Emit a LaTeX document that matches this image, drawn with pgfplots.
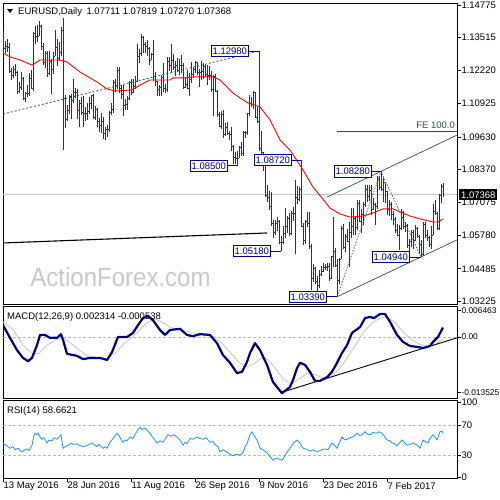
\documentclass[border=0pt]{standalone}
\usepackage{pgfplots}
\pgfplotsset{compat=1.18}
\usepackage{pgfplotstable}
\usepackage{fontspec}
\setmainfont{Liberation Sans}
\definecolor{barc}{RGB}{22,58,88}
\definecolor{navyb}{RGB}{0,0,128}
\definecolor{slate}{RGB}{47,79,79}
\definecolor{rsic}{RGB}{30,144,255}
\definecolor{wm}{RGB}{200,200,200}

\pgfplotstableread{
i o h l c
0 1.1370 1.1378 1.1290 1.1309
1 1.1309 1.1338 1.1291 1.1315
2 1.1315 1.1346 1.1293 1.1314
3 1.1314 1.1328 1.1214 1.1220
4 1.1220 1.1233 1.1186 1.1204
5 1.1204 1.1239 1.1193 1.1225
6 1.1225 1.1249 1.1200 1.1216
7 1.1216 1.1220 1.1129 1.1142
8 1.1142 1.1176 1.1136 1.1155
9 1.1155 1.1216 1.1147 1.1190
10 1.1190 1.1198 1.1106 1.1114
11 1.1114 1.1139 1.1100 1.1134
12 1.1134 1.1164 1.1119 1.1131
13 1.1131 1.1212 1.1122 1.1190
14 1.1190 1.1222 1.1150 1.1152
15 1.1152 1.1374 1.1141 1.1365
16 1.1365 1.1394 1.1325 1.1355
17 1.1355 1.1398 1.1335 1.1357
18 1.1357 1.1416 1.1357 1.1395
19 1.1395 1.1400 1.1300 1.1316
20 1.1316 1.1331 1.1245 1.1252
21 1.1252 1.1297 1.1233 1.1288
22 1.1288 1.1297 1.1195 1.1210
23 1.1210 1.1299 1.1203 1.1259
24 1.1259 1.1265 1.1131 1.1226
25 1.1226 1.1294 1.1209 1.1279
26 1.1279 1.1381 1.1279 1.1313
27 1.1313 1.1346 1.1238 1.1268
28 1.1268 1.1335 1.1258 1.1291
29 1.1291 1.1390 1.1278 1.1380
30 1.1380 1.1427 1.0912 1.1115
31 1.1115 1.1126 1.0998 1.1032
32 1.1032 1.1089 1.1025 1.1067
33 1.1067 1.1127 1.1052 1.1122
34 1.1122 1.1130 1.1031 1.1105
35 1.1105 1.1187 1.1095 1.1136
36 1.1136 1.1155 1.1114 1.1137
37 1.1137 1.1149 1.1032 1.1067
38 1.1067 1.1106 1.1000 1.1094
39 1.1094 1.1120 1.1048 1.1057
40 1.1057 1.1121 1.1000 1.1053
41 1.1053 1.1078 1.1025 1.1054
42 1.1054 1.1094 1.1030 1.1061
43 1.1061 1.1120 1.1052 1.1093
44 1.1093 1.1121 1.1071 1.1124
45 1.1124 1.1130 1.1032 1.1041
46 1.1041 1.1085 1.1027 1.1069
47 1.1069 1.1074 1.1002 1.1023
48 1.1023 1.1036 1.0982 1.1006
49 1.1006 1.1058 1.0980 1.1023
50 1.1023 1.1041 1.0953 1.0975
51 1.0975 1.1003 1.0952 1.0994
52 1.0994 1.1010 1.0961 1.0991
53 1.0991 1.1063 1.0982 1.1059
54 1.1059 1.1094 1.1047 1.1071
55 1.1071 1.1185 1.1058 1.1174
56 1.1174 1.1190 1.1140 1.1163
57 1.1163 1.1236 1.1151 1.1222
58 1.1222 1.1234 1.1134 1.1151
59 1.1151 1.1167 1.1110 1.1129
60 1.1129 1.1164 1.1046 1.1085
61 1.1085 1.1111 1.1067 1.1088
62 1.1088 1.1124 1.1067 1.1113
63 1.1113 1.1182 1.1105 1.1176
64 1.1176 1.1188 1.1128 1.1137
65 1.1137 1.1187 1.1133 1.1160
66 1.1160 1.1199 1.1149 1.1180
67 1.1180 1.1324 1.1178 1.1277
68 1.1277 1.1305 1.1250 1.1288
69 1.1288 1.1366 1.1278 1.1352
70 1.1352 1.1356 1.1290 1.1325
71 1.1325 1.1335 1.1290 1.1318
72 1.1318 1.1341 1.1280 1.1307
73 1.1307 1.1312 1.1245 1.1263
74 1.1263 1.1292 1.1262 1.1286
75 1.1286 1.1341 1.1180 1.1198
76 1.1198 1.1216 1.1160 1.1178
77 1.1178 1.1181 1.1123 1.1147
78 1.1147 1.1165 1.1122 1.1157
79 1.1157 1.1206 1.1124 1.1197
80 1.1197 1.1250 1.1137 1.1154
81 1.1154 1.1170 1.1135 1.1149
82 1.1149 1.1275 1.1138 1.1256
83 1.1256 1.1273 1.1221 1.1241
84 1.1241 1.1327 1.1211 1.1262
85 1.1262 1.1285 1.1224 1.1234
86 1.1234 1.1259 1.1199 1.1241
87 1.1241 1.1269 1.1217 1.1221
88 1.1221 1.1268 1.1204 1.1243
89 1.1243 1.1283 1.1214 1.1242
90 1.1242 1.1250 1.1150 1.1155
91 1.1155 1.1196 1.1154 1.1168
92 1.1168 1.1224 1.1151 1.1154
93 1.1154 1.1212 1.1122 1.1188
94 1.1188 1.1257 1.1174 1.1208
95 1.1208 1.1235 1.1192 1.1225
96 1.1225 1.1259 1.1211 1.1255
97 1.1255 1.1255 1.1205 1.1213
98 1.1213 1.1228 1.1158 1.1216
99 1.1216 1.1260 1.1185 1.1220
100 1.1220 1.1250 1.1190 1.1240
101 1.1240 1.1247 1.1196 1.1207
102 1.1207 1.1245 1.1167 1.1204
103 1.1204 1.1241 1.1184 1.1204
104 1.1204 1.1219 1.1140 1.1150
105 1.1150 1.1204 1.1045 1.1200
106 1.1200 1.1209 1.1137 1.1140
107 1.1140 1.1147 1.1039 1.1052
108 1.1052 1.1059 1.1003 1.1004
109 1.1004 1.1064 1.0992 1.1050
110 1.1050 1.1068 1.0960 1.0971
111 1.0971 1.1016 1.0967 1.1002
112 1.1002 1.1020 1.0971 1.0975
113 1.0975 1.0985 1.0950 1.0974
114 1.0974 1.1000 1.0909 1.0927
115 1.0927 1.0933 1.0858 1.0883
116 1.0883 1.0905 1.0856 1.0880
117 1.0880 1.0906 1.0850 1.0880
118 1.0880 1.0926 1.0880 1.0922
119 1.0922 1.0943 1.0888 1.0900
120 1.0900 1.0984 1.0890 1.0980
121 1.0980 1.0985 1.0960 1.0980
122 1.0980 1.1058 1.0970 1.1055
123 1.1055 1.1125 1.1045 1.1093
124 1.1093 1.1120 1.1080 1.1090
125 1.1090 1.1143 1.1070 1.1138
126 1.1138 1.1140 1.1035 1.1040
127 1.1040 1.1078 1.1018 1.1025
128 1.1025 1.1298 1.0906 1.0920
129 1.0920 1.0985 1.0880 1.0902
130 1.0902 1.0904 1.0830 1.0855
131 1.0855 1.0860 1.0730 1.0735
132 1.0735 1.0774 1.0710 1.0728
133 1.0728 1.0753 1.0677 1.0690
134 1.0690 1.0749 1.0615 1.0626
135 1.0626 1.0637 1.0568 1.0590
136 1.0590 1.0640 1.0581 1.0625
137 1.0625 1.0652 1.0595 1.0632
138 1.0632 1.0640 1.0546 1.0550
139 1.0550 1.0576 1.0518 1.0552
140 1.0552 1.0615 1.0545 1.0588
141 1.0588 1.0686 1.0568 1.0614
142 1.0614 1.0654 1.0588 1.0646
143 1.0646 1.0665 1.0577 1.0586
144 1.0586 1.0675 1.0582 1.0665
145 1.0665 1.0690 1.0634 1.0665
146 1.0665 1.0796 1.0505 1.0727
147 1.0727 1.0773 1.0700 1.0718
148 1.0718 1.0768 1.0712 1.0758
149 1.0758 1.0872 1.0614 1.0615
150 1.0615 1.0627 1.0540 1.0560
151 1.0560 1.0637 1.0545 1.0632
152 1.0632 1.0668 1.0610 1.0625
153 1.0625 1.0668 1.0525 1.0535
154 1.0535 1.0545 1.0366 1.0410
155 1.0410 1.0468 1.0395 1.0450
156 1.0450 1.0456 1.0389 1.0400
157 1.0400 1.0421 1.0352 1.0385
158 1.0385 1.0445 1.0375 1.0425
159 1.0425 1.0458 1.0420 1.0440
160 1.0440 1.0470 1.0435 1.0455
161 1.0455 1.0468 1.0443 1.0453
162 1.0453 1.0470 1.0440 1.0458
163 1.0458 1.0470 1.0400 1.0410
164 1.0410 1.0500 1.0410 1.0495
165 1.0495 1.0652 1.0454 1.0518
166 1.0518 1.0530 1.0455 1.0460
167 1.0460 1.0485 1.0339 1.0405
168 1.0405 1.0492 1.0390 1.0485
169 1.0485 1.0615 1.0485 1.0605
170 1.0605 1.0623 1.0524 1.0530
171 1.0530 1.0585 1.0515 1.0573
172 1.0573 1.0602 1.0555 1.0555
173 1.0555 1.0630 1.0455 1.0590
174 1.0590 1.0685 1.0570 1.0615
175 1.0615 1.0685 1.0580 1.0645
176 1.0645 1.0650 1.0580 1.0610
177 1.0610 1.0718 1.0600 1.0705
178 1.0705 1.0715 1.0630 1.0635
179 1.0635 1.0680 1.0588 1.0660
180 1.0660 1.0708 1.0620 1.0700
181 1.0700 1.0775 1.0690 1.0760
182 1.0760 1.0775 1.0708 1.0730
183 1.0730 1.0774 1.0713 1.0753
184 1.0753 1.0775 1.0660 1.0680
185 1.0680 1.0725 1.0678 1.0700
186 1.0700 1.0705 1.0620 1.0690
187 1.0690 1.0811 1.0680 1.0797
188 1.0797 1.0809 1.0755 1.0765
189 1.0765 1.0828 1.0750 1.0760
190 1.0760 1.0803 1.0710 1.0784
191 1.0784 1.0784 1.0705 1.0750
192 1.0750 1.0750 1.0660 1.0680
193 1.0680 1.0715 1.0655 1.0700
194 1.0700 1.0707 1.0639 1.0660
195 1.0660 1.0675 1.0618 1.0640
196 1.0640 1.0652 1.0588 1.0600
197 1.0600 1.0622 1.0575 1.0577
198 1.0577 1.0620 1.0520 1.0605
199 1.0605 1.0680 1.0600 1.0670
200 1.0670 1.0675 1.0605 1.0615
201 1.0615 1.0629 1.0590 1.0618
202 1.0618 1.0623 1.0530 1.0540
203 1.0540 1.0565 1.0500 1.0555
204 1.0555 1.0600 1.0535 1.0590
205 1.0590 1.0600 1.0525 1.0560
206 1.0560 1.0620 1.0555 1.0605
207 1.0605 1.0612 1.0570 1.0575
208 1.0575 1.0580 1.0505 1.0545
209 1.0545 1.0560 1.0494 1.0505
210 1.0505 1.0630 1.0500 1.0620
211 1.0620 1.0632 1.0570 1.0580
212 1.0580 1.0600 1.0555 1.0570
213 1.0570 1.0575 1.0535 1.0545
214 1.0545 1.0615 1.0525 1.0580
215 1.0580 1.0700 1.0580 1.0672
216 1.0672 1.0715 1.0660 1.0665
217 1.0665 1.0670 1.0600 1.0605
218 1.0605 1.0740 1.0600 1.0733
219 1.0733 1.0780 1.0705 1.0771
220 1.07711 1.07819 1.07270 1.07368
}\ohlc

\tikzset{
  pbox/.style={draw=navyb, fill=white, text=navyb, line width=0.8bp,
    inner xsep=1.6bp, inner ysep=2.2bp, text height=6.9bp, text depth=0bp,
    font=\fontsize{9.5bp}{10bp}\selectfont},
}
\pgfplotsset{
  panel/.style={scale only axis, width=454bp, xmin=0, xmax=227,
    anchor=north west,
    axis line style={black, line width=0.9bp},
    tick align=outside, major tick length=3.5bp,
    tick style={black, line width=0.6bp},
    ytick pos=right, yticklabel pos=right,
    tick label style={font=\fontsize{9.5bp}{10bp}\selectfont, inner sep=0.8bp},
    /pgf/number format/assume math mode=true,
    scaled ticks=false, clip=true},
}

\begin{document}
\begin{tikzpicture}
% watermark
\node[text=wm, font=\fontsize{24bp}{26bp}\selectfont, yscale=1.1] at (120.5bp,-277.5bp) {ActionForex.com};

% ===== main price panel =====
\begin{axis}[panel, at={(3bp,-3bp)}, height=301bp,
  ymin=1.03109, ymax=1.14853, xtick=\empty,
  ytick={1.03225,1.04485,1.05780,1.07075,1.08370,1.09630,1.10925,1.12220,1.13515,1.14775},
  yticklabels={1.03225,1.04485,1.05780,1.07075,1.08370,1.09630,1.10925,1.12220,1.13515,1.14775}]
\addplot[gray!45, line width=0.8bp] coordinates {(0,1.07368) (227,1.07368)};
% high-low
\addplot[draw=none, mark=none, error bars/.cd, y dir=plus, y explicit, error mark=none,
  error bar style={draw=barc, line width=0.9bp, solid}]
  table[x=i, y=l, y error expr=\thisrow{h}-\thisrow{l}] {\ohlc};
% open ticks
\addplot[draw=none, mark=none, error bars/.cd, x dir=minus, x fixed=0.5, error mark=none,
  error bar style={draw=barc, line width=0.7bp, solid}]
  table[x=i, y=o] {\ohlc};
% close ticks
\addplot[draw=none, mark=none, error bars/.cd, x dir=plus, x fixed=0.5, error mark=none,
  error bar style={draw=barc, line width=0.7bp, solid}]
  table[x=i, y=c] {\ohlc};
% moving average
\addplot[red, line width=0.9bp] coordinates {
(0,1.1290)(3.5,1.1275)(8.5,1.1263)(14.5,1.1243)(18.5,1.1263)(28.5,1.1263)(32,1.1255)
(38.5,1.1216)(47,1.1177)(52,1.1150)(56,1.1142)(64.5,1.1146)(68.5,1.1165)(73.5,1.1185)
(83.5,1.1185)(85,1.1193)(92,1.1193)(95,1.1197)(100,1.1197)(105,1.1197)(108.5,1.1185)
(115,1.1134)(118.5,1.1115)(122.5,1.1095)(128.5,1.1080)(133.5,1.1029)(138.5,1.0951)
(143.5,1.0912)(150,1.0834)(155,1.0767)(159.5,1.0725)(163.5,1.0685)(168.5,1.0662)
(173.5,1.0650)(180,1.0654)(185,1.0666)(190,1.0682)(195,1.0682)(198.5,1.0670)
(203.5,1.0654)(208.5,1.0643)(215,1.0631)(217.5,1.0631)(220,1.0643)};
% trend lines
\addplot[slate, dash pattern=on 2bp off 2bp, line width=0.8bp] coordinates {(0,1.1052) (128,1.1298)};
\addplot[black, line width=1.1bp] coordinates {(0,1.0549) (132,1.0588)};
\addplot[slate, line width=0.7bp] coordinates {(162,1.0728) (227,1.0970)};
\addplot[slate, line width=0.7bp] coordinates {(167,1.0339) (227,1.0561)};
\addplot[slate, dash pattern=on 1.5bp off 1.5bp, line width=0.7bp] coordinates {(167,1.0339) (189,1.0828) (209,1.0494)};
\addplot[slate, line width=0.8bp] coordinates {(167,1.0986) (227,1.0986)};
\node[anchor=base east, text=slate, inner sep=0pt, font=\fontsize{9.5bp}{10bp}\selectfont, yshift=2bp] at (axis cs:226,1.0986) {FE 100.0};
% price labels
\draw[navyb, line width=0.8bp] (axis cs:128,1.1298) -- ++(-10bp,0pt) node[pbox, anchor=east] {1.12980};
\draw[navyb, line width=0.8bp] (axis cs:117,1.0850) -- ++(-9bp,0pt) node[pbox, anchor=east] {1.08500};
\draw[navyb, line width=0.8bp] (axis cs:149,1.0872) -- ++(-9bp,0pt) node[pbox, anchor=east] {1.08720};
\draw[navyb, line width=0.8bp] (axis cs:189,1.0828) -- ++(-9bp,0pt) node[pbox, anchor=east] {1.08280};
\draw[navyb, line width=0.8bp] (axis cs:139,1.0518) -- ++(-10bp,0pt) node[pbox, anchor=east] {1.05180};
\draw[navyb, line width=0.8bp] (axis cs:209,1.0494) -- ++(-11bp,0pt) node[pbox, anchor=east] {1.04940};
\draw[navyb, line width=0.8bp] (axis cs:167,1.0339) -- ++(-10bp,0pt) node[pbox, anchor=east] {1.03390};
\end{axis}

% ===== MACD panel =====
\begin{axis}[panel, at={(3bp,-306.5bp)}, height=91.5bp,
  ymin=-0.01488, ymax=0.00744, xtick=\empty,
  tick label style={font=\fontsize{8.4bp}{9bp}\selectfont},
  ytick={-0.013525,0,0.006463}, yticklabels={-0.013525,0.00,0.006463}]
\addplot[gray!55, dash pattern=on 3bp off 2bp, line width=0.7bp] coordinates {(0,0) (227,0)};
\addplot[gray!45, line width=0.8bp] coordinates {
(0,0.0037)(5,0.0018)(10,-0.0020)(15,-0.0042)(18,-0.0040)(22,-0.0020)(26,-0.0008)(30,-0.0002)
(34,-0.0015)(38,-0.0032)(42,-0.0045)(47,-0.0050)(52,-0.0053)(56,-0.0040)(60,-0.0018)
(64,-0.0003)(68,0.0015)(72,0.0035)(76,0.0044)(80,0.0035)(84,0.0023)(88,0.0018)(92,0.0014)
(97,0.0008)(102,0.0006)(106,0.0000)(110,-0.0018)(114,-0.0040)(118,-0.0062)(122,-0.0072)
(126,-0.0064)(129,-0.0052)(132,-0.0053)(136,-0.0075)(140,-0.0102)(144,-0.0115)(148,-0.0103)
(152,-0.0088)(156,-0.0092)(160,-0.0100)(164,-0.0095)(168,-0.0080)(172,-0.0052)(176,-0.0022)
(180,0.0010)(184,0.0032)(188,0.0045)(192,0.0050)(196,0.0035)(200,0.0013)(204,-0.0005)
(208,-0.0017)(212,-0.0023)(216,-0.0018)(220,-0.000538)};
\addplot[black, line width=0.9bp] coordinates {(140,-0.0134) (227,-0.0002)};
\addplot[navyb, line width=2.2bp, line join=round] coordinates {
(0,0.0029)(3.5,-0.0002)(7,-0.0032)(10,-0.0051)(12.5,-0.0059)(14.5,-0.0051)(17,-0.0020)
(18.5,0.0005)(21,0.0005)(23.5,-0.0002)(27,-0.0002)(29,0.0007)(30,-0.0007)(32,-0.0041)
(37,-0.0046)(40,-0.0054)(43.5,-0.0051)(48.5,-0.0051)(52,-0.0056)(54.5,-0.0037)(57.5,0.0000)
(62,0.0000)(65,0.0010)(67.5,0.0029)(70,0.0046)(72.5,0.0051)(75,0.0041)(78.5,0.0017)
(81,0.0005)(83.5,0.0017)(88.5,0.0020)(92,0.0005)(95,0.0002)(98.5,0.0007)(103.5,0.0005)
(107,-0.0015)(110,-0.0044)(113.5,-0.0063)(117,-0.0088)(119.5,-0.0085)(122,-0.0061)
(123.5,-0.0039)(126,-0.0015)(128.5,-0.0032)(132,-0.0068)(135,-0.0110)(139.5,-0.0137)
(143.5,-0.0122)(145,-0.0105)(147,-0.0076)(148.5,-0.0063)(151,-0.0068)(153.5,-0.0085)
(156,-0.0107)(158.5,-0.0107)(162,-0.0098)(164.5,-0.0085)(167,-0.0063)(169.5,-0.0039)
(172,-0.0020)(174.5,0.0010)(178.5,0.0024)(181,0.0046)(183.5,0.0049)(185.5,0.0046)
(188.5,0.0056)(191,0.0056)(193.5,0.0037)(197,0.0005)(200,-0.0012)(203.5,-0.0022)
(207,-0.0024)(210,-0.0027)(213.5,-0.0022)(215,-0.0012)(217.5,0.0000)(220,0.002314)};
\end{axis}

% ===== RSI panel =====
\begin{axis}[panel, at={(3bp,-400bp)}, height=78bp,
  ymin=-0.67, ymax=103.33,
  ytick={0,30,70,100}, yticklabels={0,30,70,100},
  xtick={0,32,64,96,128,160,192}, xtick pos=bottom,
  xticklabels={13 May 2016,28 Jun 2016,11 Aug 2016,26 Sep 2016,9 Nov 2016,23 Dec 2016,7 Feb 2017},
  xticklabel style={anchor=north west, inner sep=0pt, xshift=0.5bp, yshift=-0.5bp}]
\addplot[gray!55, dash pattern=on 3bp off 2bp, line width=0.7bp] coordinates {(0,70) (227,70)};
\addplot[gray!55, dash pattern=on 3bp off 2bp, line width=0.7bp] coordinates {(0,30) (227,30)};
\addplot[rsic, line width=0.8bp] coordinates {
(0,46)(1.5,43)(3.5,39)(5,41)(6,37)(7.5,39)(8.5,36)(9.5,34)(11,37)(12,38)(13,36)(14.5,43)
(15.5,56)(16,59)(17,57)(17.5,59)(18.5,54)(19.5,51)(20.5,53)(22,46)(23,50)(24.5,49)(25.5,53)
(27,51)(28,54)(29,57)(30,39)(31,41)(32.5,43)(34,46)(35,44)(37,45)(38,43)(40,41)(41.5,42)
(43,44)(44.5,46)(46,43)(47,41)(48,44)(50,39)(51,41)(52,39)(53.5,47)(55,52)(57,59)(58,56)
(59,51)(60,47)(61,50)(62,49)(63.5,54)(65,52)(66,57)(67.5,64)(68.5,67)(69.5,64)(71,66)
(72,63)(73.5,59)(75,53)(77,46)(78.5,49)(80,47)(81,51)(82.5,57)(84,55)(85.5,57)(87,54)
(88.5,50)(90,43)(91,47)(92,45)(93.5,52)(95,51)(97,54)(98.5,52)(100,51)(101.5,53)(103.5,47)
(105,48)(106,44)(107.5,41)(108.5,34)(110,37)(112,34)(113.5,31)(115,29)(116.5,31)(118.5,30)
(120,33)(121,41)(122,45)(123.5,57)(124.5,61)(126,54)(127,50)(128.5,39)(130,37)(132,33)
(133.5,28)(135,23)(136,25)(137,26)(138.5,24)(139.5,23)(141,29)(142,34)(143,37)(144.5,43)
(146,48)(147,50)(148.5,46)(150,39)(151.5,38)(153.5,35)(155,37)(157,34)(158.5,36)(159.5,37)
(161,38)(162.5,37)(163.5,42)(164.5,46)(166,42)(167,39)(168,45)(169.5,54)(171,50)(172,51)
(173.5,53)(174.5,54)(176,56)(177,59)(178.5,56)(179.5,57)(181,61)(182,58)(183.5,57)(185,60)
(187,59)(188,61)(189.5,59)(191,54)(192,50)(193.5,49)(194.5,46)(196,45)(197,42)(198.5,47)
(199.5,50)(201,46)(202,43)(203.5,44)(205,46)(206.5,44)(207.5,42)(208.5,39)(210,50)(211,48)
(212.5,46)(213.5,52)(215,57)(216,54)(217,50)(218.5,61)(219.5,62)(220,58.66)};
\end{axis}

% texts
\fill[black] (7bp,-9bp) -- (13bp,-9bp) -- (10bp,-13bp) -- cycle;
\node[anchor=base west, inner sep=0pt, font=\fontsize{9.5bp}{10bp}\selectfont] at (18bp,-14.4bp) {EURUSD,Daily\hspace{4.5bp}1.07711 1.07819 1.07270 1.07368};
\node[anchor=base west, inner sep=0pt, font=\fontsize{9.5bp}{10bp}\selectfont] at (7bp,-319.4bp) {MACD(12,26,9) 0.002314 -0.000538};
\node[anchor=base west, inner sep=0pt, font=\fontsize{9.5bp}{10bp}\selectfont] at (7bp,-413.4bp) {RSI(14) 58.6621};
\node[fill=black, text=white, anchor=west, inner xsep=1.9bp, inner ysep=2bp, text height=6.9bp, text depth=0bp, font=\fontsize{9.5bp}{10bp}\selectfont] at (459bp,-194.8bp) {1.07368};

\pgfresetboundingbox
\path (0,0) rectangle (500bp,-500bp);
\end{tikzpicture}
\end{document}
